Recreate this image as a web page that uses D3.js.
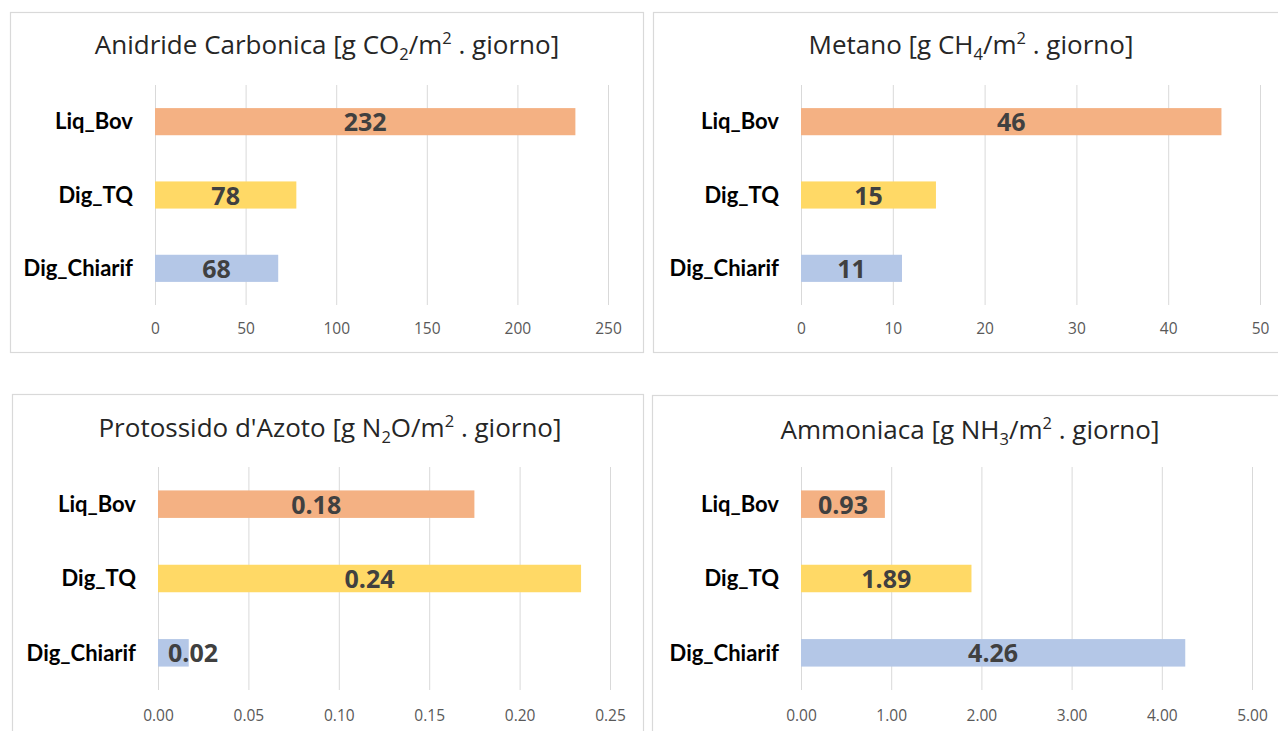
<!DOCTYPE html>
<html><head><meta charset="utf-8">
<script src="https://cdn.jsdelivr.net/npm/d3@7"></script>
<style>
body{margin:0;background:#fff;}
svg{display:block;font-family:"Open Sans",Lato,sans-serif;}
</style></head>
<body><svg id="c" width="1278" height="731"></svg>
<script>
// ---- DATA ----
const categories = ["Liq_Bov", "Dig_TQ", "Dig_Chiarif"];
const co2Values = [232, 78, 68];
const ch4Values = [45.8, 14.7, 11];
const n2oValues = [0.175, 0.234, 0.017];
const nh3Values = [0.93, 1.89, 4.26];
const co2Labels = ["232", "78", "68"];
const ch4Labels = ["46", "15", "11"];
const n2oLabels = ["0.18", "0.24", "0.02"];
const nh3Labels = ["0.93", "1.89", "4.26"];
const co2Ticks = [0, 50, 100, 150, 200, 250];
const ch4Ticks = [0, 10, 20, 30, 40, 50];
const n2oTicks = [0, 0.05, 0.10, 0.15, 0.20, 0.25];
const nh3Ticks = [0, 1, 2, 3, 4, 5];
const barColors = ["#F4B183", "#FFD966", "#B4C7E7"];

// title parts: [text, kind] kind: 0 normal, -1 subscript, 1 superscript
const co2Title = [["Anidride Carbonica [g CO",0],["2",-1],["/m",0],["2",1],[" . giorno]",0]];
const ch4Title = [["Metano [g CH",0],["4",-1],["/m",0],["2",1],[" . giorno]",0]];
const n2oTitle = [["Protossido d'Azoto [g N",0],["2",-1],["O/m",0],["2",1],[" . giorno]",0]];
const nh3Title = [["Ammoniaca [g NH",0],["3",-1],["/m",0],["2",1],[" . giorno]",0]];

const panels = [
  {box:[10,12,633,340], x0:155, x1:608, gTop:85, gBot:305, tickY:337, titleX:327, titleY:54,
   values:co2Values, labels:co2Labels, ticks:co2Ticks, domain:[0,250], fmt:d3.format("d"), title:co2Title},
  {box:[653,12,640,340], x0:801, x1:1260, gTop:85, gBot:305, tickY:337, titleX:971, titleY:54,
   values:ch4Values, labels:ch4Labels, ticks:ch4Ticks, domain:[0,50], fmt:d3.format("d"), title:ch4Title},
  {box:[12,394,631,350], x0:158, x1:610, gTop:467, gBot:690, tickY:724, titleX:330, titleY:437,
   values:n2oValues, labels:n2oLabels, ticks:n2oTicks, domain:[0,0.25], fmt:d3.format(".2f"), title:n2oTitle},
  {box:[652,395,640,350], x0:801, x1:1252, gTop:467, gBot:690, tickY:724, titleX:970, titleY:439,
   values:nh3Values, labels:nh3Labels, ticks:nh3Ticks, domain:[0,5], fmt:d3.format(".2f"), title:nh3Title}
];

const svg = d3.select("#c");

panels.forEach(p => {
  const g = svg.append("g");
  g.append("rect").attr("x",p.box[0]+0.5).attr("y",p.box[1]+0.5)
    .attr("width",p.box[2]).attr("height",p.box[3])
    .attr("fill","#fff").attr("stroke","#D9D9D9").attr("stroke-width",1.2);

  // title
  const t = g.append("text").attr("x",p.titleX).attr("y",p.titleY)
    .attr("text-anchor","middle").attr("font-size",26).attr("fill","#262626")
    .style("font-family","'Open Sans',sans-serif");
  let cum = 0;
  p.title.forEach(([s,k]) => {
    const target = k === -1 ? 6 : (k === 1 ? -10 : 0);
    const ts = t.append("tspan").text(s).attr("dy", target - cum);
    if (k !== 0) ts.attr("font-size",16.5);
    cum = target;
  });

  const x = d3.scaleLinear().domain(p.domain).range([p.x0,p.x1]);
  const y = d3.scaleBand().domain(categories).range([p.gTop,p.gBot])
    .paddingInner(0.63).paddingOuter(0.315);

  // gridlines via axis
  const grid = g.append("g").attr("transform",`translate(0,${p.gBot})`)
    .call(d3.axisBottom(x).tickValues(p.ticks).tickSize(-(p.gBot-p.gTop)).tickFormat(""));
  grid.select(".domain").remove();
  grid.selectAll("line").attr("stroke","#D9D9D9").attr("stroke-width",1);

  // tick labels via axis
  const ax = g.append("g").attr("transform",`translate(0,${p.tickY-17})`)
    .call(d3.axisBottom(x).tickValues(p.ticks).tickSize(0).tickFormat(p.fmt));
  ax.select(".domain").remove();
  ax.selectAll("text").attr("font-size",15.5).attr("fill","#595959")
    .style("font-family","'Open Sans',sans-serif");

  // bars
  g.selectAll(".bar").data(p.values).enter().append("rect")
    .attr("x",x(0)).attr("y",(d,i)=>y(categories[i]))
    .attr("width",d=>x(d)-x(0)).attr("height",y.bandwidth())
    .attr("fill",(d,i)=>barColors[i]);

  // category labels
  g.selectAll(".cat").data(categories).enter().append("text")
    .attr("x",p.x0-22).attr("y",d=>y(d)+y.bandwidth()/2).attr("dy","0.35em")
    .attr("text-anchor","end").attr("font-size",22).attr("font-weight","bold")
    .attr("fill","#000").style("font-family","Lato,sans-serif").text(d=>d);

  // value labels
  g.selectAll(".val").data(p.values).enter().append("text")
    .attr("x",(d)=>{ const w=x(d)-x(0); return w<60 ? x(0)+10 : (x(0)+x(d))/2; })
    .attr("text-anchor",(d)=>(x(d)-x(0))<60 ? "start" : "middle")
    .attr("y",(d,i)=>y(categories[i])+y.bandwidth()/2).attr("dy","0.38em")
    .attr("font-size",25).attr("font-weight","bold").attr("fill","#404040")
    .style("font-family","'Open Sans',sans-serif")
    .text((d,i)=>p.labels[i]);
});
</script></body></html>
